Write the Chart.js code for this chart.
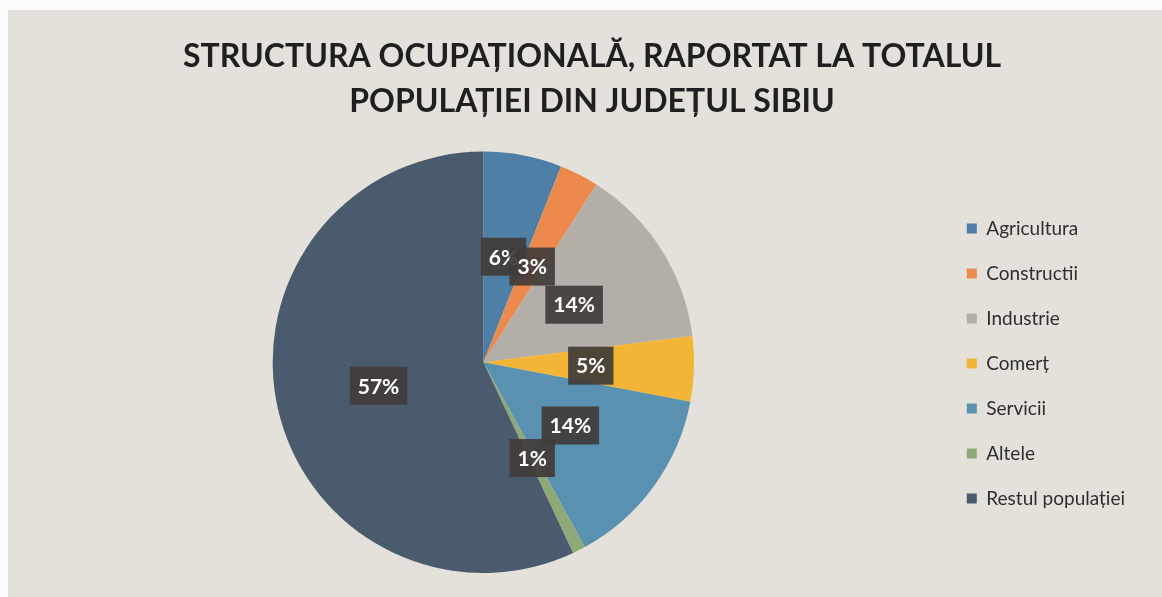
<!DOCTYPE html>
<html>
<head>
<meta charset="utf-8">
<script src="https://cdn.jsdelivr.net/npm/chart.js@4.4.1/dist/chart.umd.min.js"></script>
<style>
  html, body { margin: 0; padding: 0; background: #fbfbf9; }
  #wrap {
    position: absolute; left: 8px; top: 10px;
    width: 1154px; height: 587px;
    background: #e4e1da;
  }
</style>
</head>
<body>
<div id="wrap"><canvas id="chartOcupatii"></canvas></div>
<script>
// Structura ocupațională - județul Sibiu
const categorii = ['Agricultura', 'Constructii', 'Industrie', 'Comerț', 'Servicii', 'Altele', 'Restul populației'];
const procente = [6, 3, 14, 5, 14, 1, 57];
const culori = ['#4e7fa6', '#ec8a4e', '#b3aea8', '#f2b535', '#5a90b0', '#8ea878', '#4b5b6e'];
const titlu = ['STRUCTURA OCUPAȚIONALĂ, RAPORTAT LA TOTALUL', 'POPULAȚIEI DIN JUDEȚUL SIBIU'];

// legenda ceva mai lata, cu spatiu liber in dreapta
const latimeLegenda = {
    id: 'latimeLegenda',
    beforeInit(chart) {
        const fitOrig = chart.legend.fit;
        chart.legend.fit = function () {
            fitOrig.call(this);
            this.width += 23;
        };
    }
};

// etichete cu procent, în casete închise
const eticheteProcent = {
    id: 'eticheteProcent',
    afterDatasetsDraw(chart) {
        const ctx = chart.ctx;
        const meta = chart.getDatasetMeta(0);
        ctx.save();
        ctx.font = 'bold 21px Lato, sans-serif';
        ctx.textAlign = 'center';
        ctx.textBaseline = 'middle';
        meta.data.forEach((arc, i) => {
            const p = arc.getProps(['x', 'y', 'startAngle', 'endAngle', 'outerRadius'], true);
            const mid = (p.startAngle + p.endAngle) / 2;
            const r = p.outerRadius * 0.51;
            const x = p.x + Math.cos(mid) * r;
            const y = p.y + Math.sin(mid) * r;
            const txt = procente[i] + '%';
            const w = ctx.measureText(txt).width + 16;
            const h = 38;
            ctx.fillStyle = 'rgba(66, 60, 58, 0.93)';
            ctx.fillRect(x - w / 2, y - h / 2, w, h);
            ctx.fillStyle = '#ffffff';
            ctx.fillText(txt, x, y + 1);
        });
        ctx.restore();
    }
};

const ctx = document.getElementById('chartOcupatii').getContext('2d');
new Chart(ctx, {
    type: 'pie',
    data: {
        labels: categorii,
        datasets: [{
            data: procente,
            backgroundColor: culori,
            borderWidth: 0
        }]
    },
    options: {
        responsive: true,
        maintainAspectRatio: false,
        animation: false,
        layout: {
            padding: { left: 18, right: 4, top: 0, bottom: 24 }
        },
        plugins: {
            title: {
                display: true,
                text: titlu,
                color: '#1f1f1f',
                font: { family: 'Lato', size: 32, weight: 'bold', lineHeight: 1.4 },
                padding: { top: 24, bottom: 28 }
            },
            legend: {
                position: 'right',
                title: {
                    display: true,
                    text: '',
                    font: { size: 1 },
                    padding: { top: 143, bottom: 0 }
                },
                labels: {
                    boxWidth: 10,
                    boxHeight: 10,
                    padding: 26,
                    color: '#2e2e2e',
                    font: { family: 'Lato', size: 19 }
                }
            },
            tooltip: { enabled: false }
        }
    },
    plugins: [latimeLegenda, eticheteProcent]
});
</script>
</body>
</html>
